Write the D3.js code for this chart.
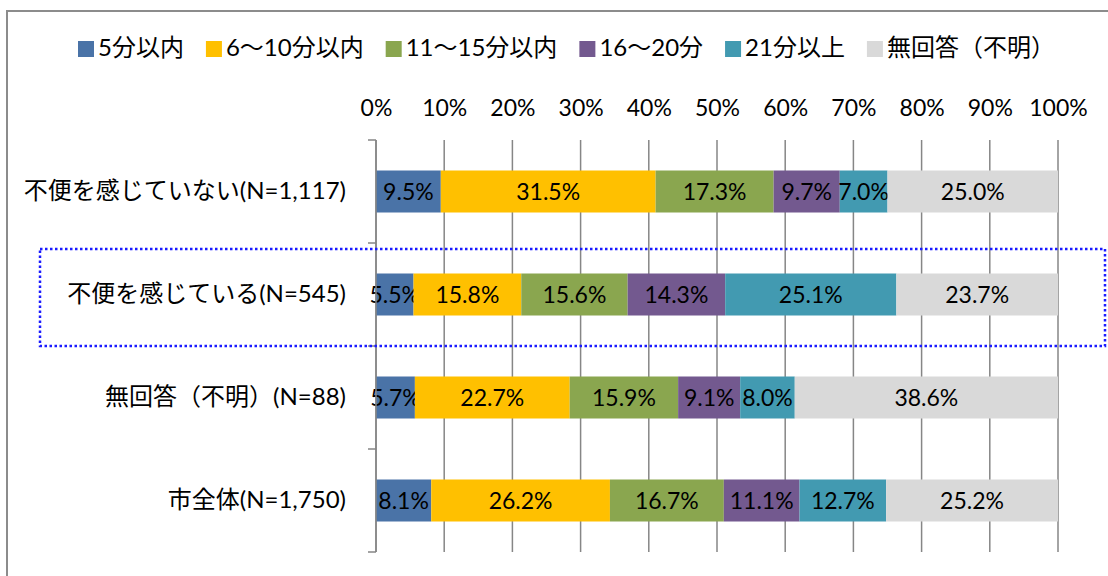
<!DOCTYPE html>
<html>
<head>
<meta charset="utf-8">
<script src="https://cdn.jsdelivr.net/npm/d3@7"></script>
<style>
  body { margin: 0; background: #fff; }
  text { font-family: Lato, "Noto Sans CJK JP", sans-serif; fill: #000; }
</style>
</head>
<body>
<script>
const width = 1108,
      height = 576;

// data
const categories = ["不便を感じていない(N=1,117)", "不便を感じている(N=545)", "無回答（不明）(N=88)", "市全体(N=1,750)"];
const seriesNames = ["5分以内", "6～10分以内", "11～15分以内", "16～20分", "21分以上", "無回答（不明）"];
const within5 = [9.5, 5.5, 5.7, 8.1];
const from6to10 = [31.5, 15.8, 22.7, 26.2];
const from11to15 = [17.3, 15.6, 15.9, 16.7];
const from16to20 = [9.7, 14.3, 9.1, 11.1];
const over21 = [7.0, 25.1, 8.0, 12.7];
const noAnswer = [25.0, 23.7, 38.6, 25.2];
const xTicks = [0, 10, 20, 30, 40, 50, 60, 70, 80, 90, 100];
const highlighted = "不便を感じている(N=545)";

const colors = ["#4A73A7", "#FFC000", "#8AA64F", "#73598F", "#429AB1", "#D9D9D9"];

const seriesValues = [within5, from6to10, from11to15, from16to20, over21, noAnswer];
const rows = categories.map((c, i) => {
  const row = { category: c };
  seriesNames.forEach((s, j) => { row[s] = seriesValues[j][i]; });
  return row;
});

const svg = d3.select("body")
    .append("svg")
    .attr("width", width)
    .attr("height", height);

// chart border (runs off the right/bottom edge like the source)
svg.append("rect")
    .attr("x", 7).attr("y", 11)
    .attr("width", 1140).attr("height", 600)
    .attr("fill", "none")
    .attr("stroke", "#8c8c8c")
    .attr("stroke-width", 2);

const x = d3.scaleLinear()
    .domain([0, 100])
    .range([376, 1058]);

const y = d3.scaleBand()
    .domain(categories)
    .range([140, 552]);

const barH = 42;

// gridlines
svg.append("g")
    .selectAll("line")
    .data(xTicks)
    .enter().append("line")
    .attr("x1", d => x(d)).attr("x2", d => x(d))
    .attr("y1", y.range()[0]).attr("y2", y.range()[1])
    .attr("stroke", "#868686")
    .attr("stroke-width", 1.5);

// y axis ticks at band boundaries
const bounds = categories.map(c => y(c)).concat([y.range()[1]]);
svg.append("g")
    .selectAll("line")
    .data(bounds)
    .enter().append("line")
    .attr("x1", x(0) - 8).attr("x2", x(0))
    .attr("y1", d => d).attr("y2", d => d)
    .attr("stroke", "#868686")
    .attr("stroke-width", 1.5);

// top axis labels
svg.append("g")
    .attr("transform", `translate(0,${y.range()[0]})`)
    .call(d3.axisTop(x)
      .tickValues(xTicks)
      .tickSize(0)
      .tickPadding(24)
      .tickFormat(d => d + "%"))
    .call(g => g.select(".domain").remove())
    .selectAll("text")
      .attr("font-size", 23)
      .style("font-family", 'Lato, "Noto Sans CJK JP", sans-serif');

// category labels
svg.append("g")
    .attr("transform", `translate(${x(0)},0)`)
    .call(d3.axisLeft(y).tickSize(0).tickPadding(30))
    .call(g => g.select(".domain").remove())
    .selectAll("text")
      .attr("font-size", 24)
      .style("font-family", 'Lato, "Noto Sans CJK JP", sans-serif');

// stacked bars
const stack = d3.stack().keys(seriesNames)(rows);

const layers = svg.append("g")
    .selectAll("g")
    .data(stack)
    .enter().append("g")
    .attr("fill", (d, i) => colors[i]);

layers.selectAll("rect")
    .data(d => d)
    .enter().append("rect")
    .attr("x", d => x(d[0]))
    .attr("width", d => x(d[1]) - x(d[0]))
    .attr("y", d => y(d.data.category) + (y.bandwidth() - barH) / 2)
    .attr("height", barH);

layers.selectAll("text")
    .data(d => d)
    .enter().append("text")
    .attr("x", d => (x(d[0]) + x(d[1])) / 2)
    .attr("y", d => y(d.data.category) + y.bandwidth() / 2)
    .attr("dy", "0.36em")
    .attr("text-anchor", "middle")
    .attr("font-size", 23)
    .text(d => d3.format(".1f")(d[1] - d[0]) + "%");

// y axis line
svg.append("line")
    .attr("x1", x(0)).attr("x2", x(0))
    .attr("y1", y.range()[0]).attr("y2", y.range()[1])
    .attr("stroke", "#868686")
    .attr("stroke-width", 1.5);

// dotted highlight around one category
svg.append("rect")
    .attr("x", 40)
    .attr("y", y(highlighted) + 6)
    .attr("width", 1065)
    .attr("height", y.bandwidth() - 6)
    .attr("fill", "none")
    .attr("stroke", "#1a1aff")
    .attr("stroke-width", 2.5)
    .attr("stroke-dasharray", "2.5,2.5");

// legend
const legend = svg.append("g").attr("class", "legend");
let lx = 78;
seriesNames.forEach((s, i) => {
  const item = legend.append("g").attr("transform", `translate(${lx},0)`);
  item.append("rect")
      .attr("x", 0).attr("y", 41)
      .attr("width", 16).attr("height", 16)
      .attr("fill", colors[i]);
  const t = item.append("text")
      .attr("x", 20).attr("y", 56)
      .attr("font-size", 24)
      .text(s);
  lx += 20 + t.node().getComputedTextLength() + 22;
});
</script>
</body>
</html>
